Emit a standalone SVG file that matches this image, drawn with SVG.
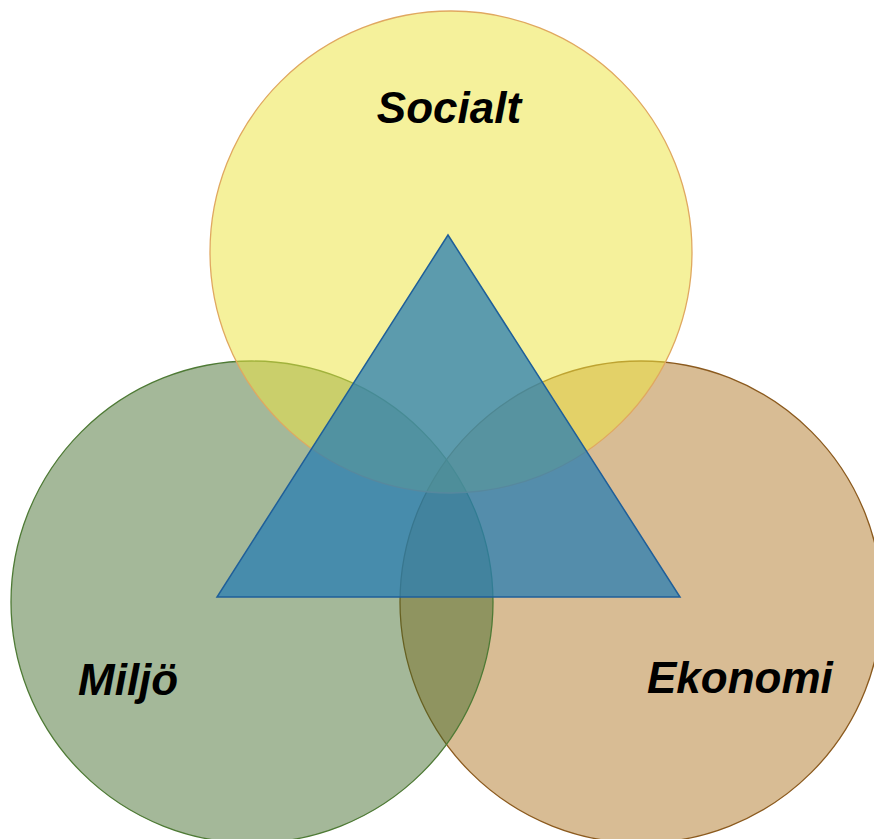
<svg xmlns="http://www.w3.org/2000/svg" width="874" height="839" viewBox="0 0 874 839">
<style>
.lbl{font-family:"Liberation Sans",Arial,sans-serif;font-size:44px;font-weight:bold;font-style:italic;fill:#000}
</style>
<rect width="874" height="839" fill="#fff"/>
<g id="ekonomi">
<circle cx="641" cy="602" r="241" fill="#d8bc94" stroke="#8b5a1e" stroke-width="1.3"/>
</g>
<g id="miljo">
<circle cx="252" cy="602" r="241" fill="rgb(62,104,38)" fill-opacity="0.47" stroke="#4e7a35" stroke-width="1.3"/>
</g>
<g id="socialt">
<circle cx="451" cy="252" r="241" fill="rgb(236,228,66)" fill-opacity="0.53" stroke="#e0a860" stroke-width="1.3"/>
</g>
<g id="triangle">
<polygon points="448,235 217,597 680,597" fill="rgb(40,125,179)" fill-opacity="0.75" stroke="#1f5f99" stroke-width="1.5"/>
</g>
<g id="labels">
<text class="lbl" x="449" y="123" text-anchor="middle">Socialt</text>
<text class="lbl" x="78" y="695">Miljö</text>
<text class="lbl" x="647" y="693">Ekonomi</text>
</g>
<g id="connectors"/>
</svg>
